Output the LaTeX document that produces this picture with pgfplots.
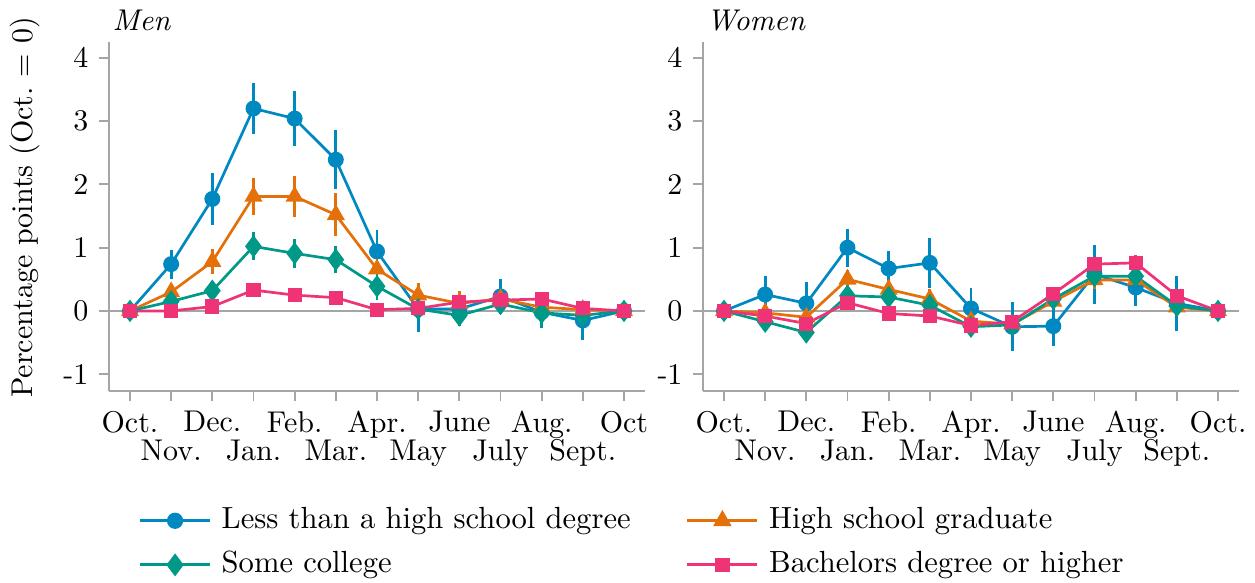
\documentclass[border=0pt]{standalone}
\usepackage{pgfplots}
\pgfplotsset{compat=1.18}
\definecolor{cblue}{RGB}{0,136,192}
\definecolor{corange}{RGB}{228,112,10}
\definecolor{cteal}{RGB}{0,153,136}
\definecolor{cpink}{RGB}{238,51,119}
\definecolor{axgray}{RGB}{165,165,165}
\pgfplotsset{
  panel/.style={
    scale only axis, width=178.67pt, height=116.33pt,
    xmin=-0.51, xmax=12.51, ymin=-1.265, ymax=4.25,
    axis x line*=bottom, axis y line*=left,
    axis line style={axgray, line width=0.6pt, -},
    tick style={axgray, line width=0.6pt},
    tick align=outside, major tick length=3.3pt,
    xtick={0,...,12},
    xticklabel style={align=center, font=\fontsize{10}{9.3}\selectfont},
    ytick={-1,0,1,2,3,4}, yticklabels={-1,0,1,2,3,4},
    title style={at={(axis description cs:0,1)}, anchor=base west, xshift=-2.3pt, yshift=-2.3pt, font=\itshape},
  },
  ser/.style={line width=0.9pt,
    error bars/y dir=both, error bars/y explicit, error bars/error mark=none,
    error bars/error bar style={line width=0.9pt, solid}},
  zl/.style={axgray, line width=0.8pt, no markers, forget plot},
}
\begin{document}
\begin{tikzpicture}
\begin{axis}[panel, title={Men},
  xticklabels={Oct.,{\phantom{O}\\Nov.},Dec.,{\phantom{O}\\Jan.},Feb.,{\phantom{O}\\Mar.},Apr.,{\phantom{O}\\May},June,{\phantom{O}\\July},Aug.,{\phantom{O}\\Sept.},Oct},
  ylabel={Percentage points (Oct.\ $=$ 0)},
  ylabel style={at={(axis description cs:-0.1433,0.526)}, anchor=base},
  legend columns=2, legend cell align=left,
  legend style={draw=none, fill=none, at={(axis description cs:0.054,-0.435)}, anchor=west,
    inner sep=0pt, font=\fontsize{10.2}{12}\selectfont,
    nodes={inner ysep=0pt, inner xsep=3.4pt, text height=7pt, text depth=2pt}, row sep=5.7pt,
    /tikz/every even column/.append style={column sep=15pt}},
  legend image code/.code={\draw[mark repeat=2,mark phase=2, line width=1pt] plot coordinates {(0pt,0pt)(11.67pt,0pt)(23.33pt,0pt)};},
]
\addplot[zl] coordinates {(-0.51,0) (12.51,0)};
\addplot[ser, cblue, mark=*, mark size=2.2pt] coordinates {
 (0,0) +- (0,0) (1,0.74) +- (0,0.23) (2,1.77) +- (0,0.41) (3,3.20) +- (0,0.41)
 (4,3.04) +- (0,0.43) (5,2.39) +- (0,0.47) (6,0.94) +- (0,0.34) (7,0.03) +- (0,0.36)
 (8,0.03) +- (0,0.10) (9,0.23) +- (0,0.27) (10,-0.02) +- (0,0.25) (11,-0.15) +- (0,0.31) (12,0) +- (0,0)};
\addlegendentry{Less than a high school degree}
\addplot[ser, corange, mark=triangle*, mark size=2.6pt] coordinates {
 (0,0) +- (0,0) (1,0.30) +- (0,0.12) (2,0.78) +- (0,0.20) (3,1.81) +- (0,0.29)
 (4,1.81) +- (0,0.32) (5,1.52) +- (0,0.34) (6,0.66) +- (0,0.28) (7,0.25) +- (0,0.19)
 (8,0.12) +- (0,0.20) (9,0.19) +- (0,0.12) (10,0.06) +- (0,0.10) (11,0.02) +- (0,0.08) (12,0) +- (0,0)};
\addlegendentry{High school graduate}
\addplot[ser, cteal, mark=diamond*, mark size=3pt] coordinates {
 (0,0) +- (0,0) (1,0.15) +- (0,0.10) (2,0.32) +- (0,0.13) (3,1.02) +- (0,0.22)
 (4,0.91) +- (0,0.23) (5,0.81) +- (0,0.21) (6,0.39) +- (0,0.21) (7,0.03) +- (0,0.12)
 (8,-0.07) +- (0,0.17) (9,0.11) +- (0,0.16) (10,-0.03) +- (0,0.20) (11,-0.07) +- (0,0.12) (12,0) +- (0,0)};
\addlegendentry{Some college}
\addplot[ser, cpink, mark=square*, mark size=1.9pt] coordinates {
 (0,0) +- (0,0) (1,0.00) +- (0,0.03) (2,0.07) +- (0,0.04) (3,0.33) +- (0,0.07)
 (4,0.25) +- (0,0.06) (5,0.21) +- (0,0.06) (6,0.02) +- (0,0.04) (7,0.04) +- (0,0.05)
 (8,0.14) +- (0,0.06) (9,0.17) +- (0,0.06) (10,0.19) +- (0,0.06) (11,0.04) +- (0,0.05) (12,0) +- (0,0)};
\addlegendentry{Bachelors degree or higher}
\end{axis}
\begin{axis}[panel, title={Women}, at={(198pt,0)},
  xticklabels={Oct.,{\phantom{O}\\Nov.},Dec.,{\phantom{O}\\Jan.},Feb.,{\phantom{O}\\Mar.},Apr.,{\phantom{O}\\May},June,{\phantom{O}\\July},Aug.,{\phantom{O}\\Sept.},Oct.},
]
\addplot[zl] coordinates {(-0.51,0) (12.51,0)};
\addplot[ser, cblue, mark=*, mark size=2.2pt] coordinates {
 (0,0) +- (0,0) (1,0.26) +- (0,0.29) (2,0.12) +- (0,0.33) (3,1.00) +- (0,0.30)
 (4,0.67) +- (0,0.27) (5,0.76) +- (0,0.40) (6,0.04) +- (0,0.33) (7,-0.25) +- (0,0.39)
 (8,-0.24) +- (0,0.32) (9,0.58) +- (0,0.47) (10,0.37) +- (0,0.29) (11,0.12) +- (0,0.43) (12,0) +- (0,0)};
\addplot[ser, corange, mark=triangle*, mark size=2.6pt] coordinates {
 (0,0) +- (0,0) (1,-0.03) +- (0,0.08) (2,-0.10) +- (0,0.10) (3,0.50) +- (0,0.15)
 (4,0.34) +- (0,0.15) (5,0.19) +- (0,0.15) (6,-0.16) +- (0,0.18) (7,-0.21) +- (0,0.10)
 (8,0.15) +- (0,0.12) (9,0.49) +- (0,0.15) (10,0.49) +- (0,0.15) (11,0.06) +- (0,0.12) (12,0) +- (0,0)};
\addplot[ser, cteal, mark=diamond*, mark size=3pt] coordinates {
 (0,0) +- (0,0) (1,-0.17) +- (0,0.06) (2,-0.34) +- (0,0.10) (3,0.24) +- (0,0.12)
 (4,0.22) +- (0,0.10) (5,0.09) +- (0,0.10) (6,-0.25) +- (0,0.14) (7,-0.22) +- (0,0.10)
 (8,0.19) +- (0,0.10) (9,0.55) +- (0,0.12) (10,0.55) +- (0,0.12) (11,0.08) +- (0,0.12) (12,0) +- (0,0)};
\addplot[ser, cpink, mark=square*, mark size=1.9pt] coordinates {
 (0,0) +- (0,0) (1,-0.08) +- (0,0.05) (2,-0.20) +- (0,0.06) (3,0.13) +- (0,0.08)
 (4,-0.04) +- (0,0.06) (5,-0.08) +- (0,0.06) (6,-0.23) +- (0,0.07) (7,-0.17) +- (0,0.06)
 (8,0.27) +- (0,0.08) (9,0.74) +- (0,0.10) (10,0.76) +- (0,0.12) (11,0.24) +- (0,0.10) (12,0) +- (0,0)};
\end{axis}
\pgfresetboundingbox
\path[use as bounding box] (-36.33pt,-63.67pt) rectangle (382pt,130.33pt);
\end{tikzpicture}
\end{document}
